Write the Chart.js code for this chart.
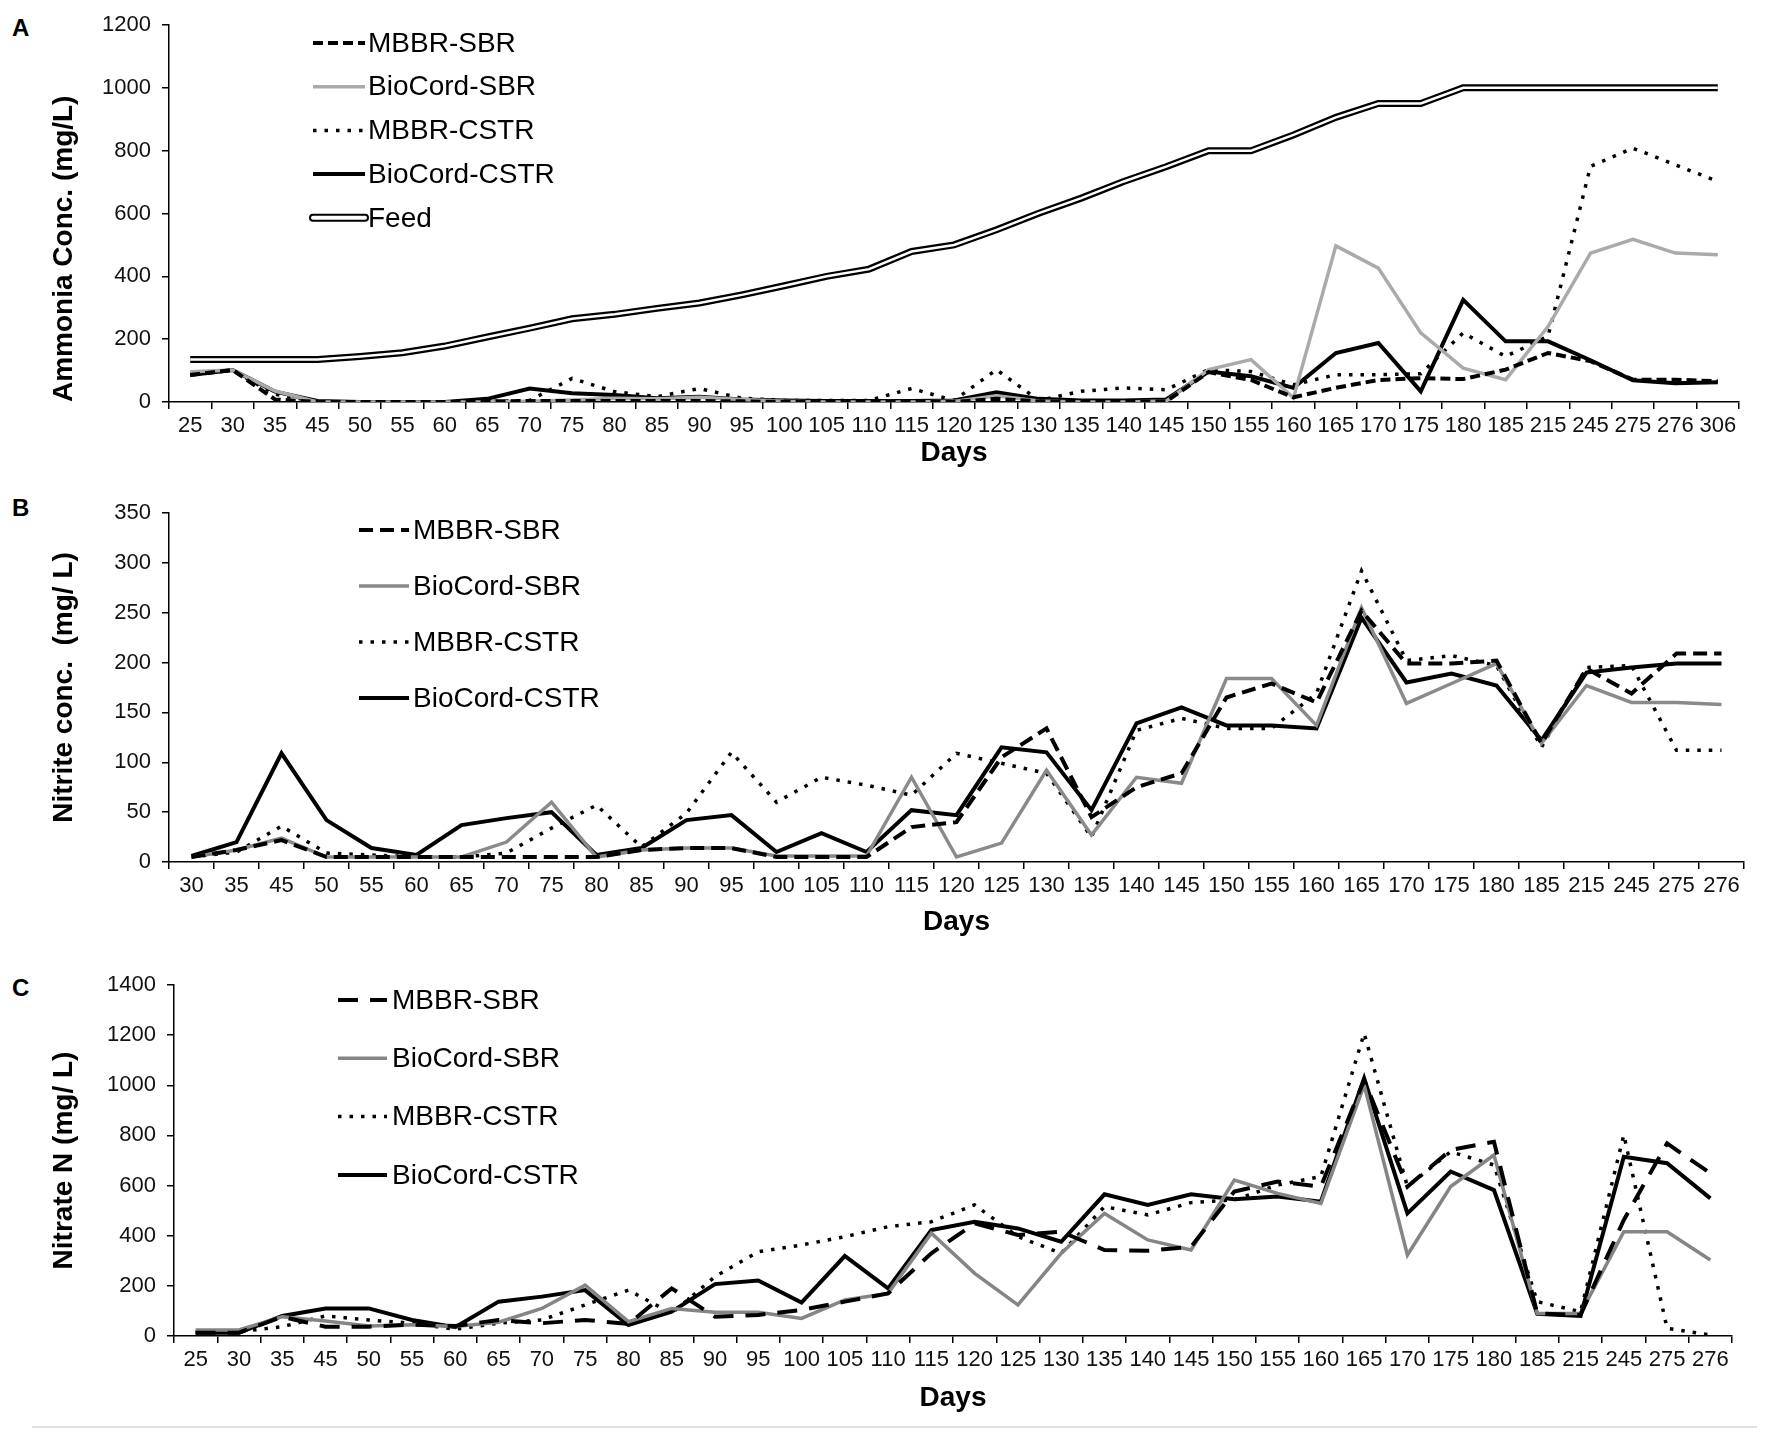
<!DOCTYPE html>
<html>
<head>
<meta charset="utf-8">
<title>Ammonia, nitrite and nitrate</title>
<script src="https://cdn.jsdelivr.net/npm/chart.js@4.4.1/dist/chart.umd.min.js"></script>
<style>
    body { margin: 0; background: #fff; }
    #page { position: relative; width: 1773px; height: 1442px; background: #fff; overflow: hidden; }
    .panel { position: absolute; left: 0; width: 1773px; }
    .letter { position: absolute; left: 12px; font: bold 24px "Liberation Sans", Arial, sans-serif; color: #000; }
    #footLine { position: absolute; left: 32px; top: 1426px; width: 1725px; height: 2px; background: #e2e2e2; }
</style>
</head>
<body>
<div id="page">
    <div class="letter" style="top: 14px;">A</div>
    <div class="letter" style="top: 494px;">B</div>
    <div class="letter" style="top: 974px;">C</div>
    <div class="panel" style="top: 0; height: 470px;"><canvas id="chartA" width="1773" height="470"></canvas></div>
    <div class="panel" style="top: 470px; height: 475px;"><canvas id="chartB" width="1773" height="475"></canvas></div>
    <div class="panel" style="top: 945px; height: 497px;"><canvas id="chartC" width="1773" height="497"></canvas></div>
    <div id="footLine"></div>
</div>

<script>
// Panel A - ammonia
const daysA = ['25', '30', '35', '45', '50', '55', '60', '65', '70', '75', '80', '85', '90', '95', '100', '105', '110',
    '115', '120', '125', '130', '135', '140', '145', '150', '155', '160', '165', '170', '175', '180', '185',
    '215', '245', '275', '276', '306'];
const feedA = [135, 135, 135, 135, 145, 157, 178, 207, 235, 265, 279, 298, 315, 341, 370, 400, 423,
    479, 500, 548, 601, 649, 702, 749, 800, 800, 850, 906, 950, 950, 1000, 1000, 1000, 1000, 1000, 1000, 1000];
const mbbrSbrA = [86, 102, 8, 0, 0, 0, 0, 2, 3, 3, 3, 3, 3, 2, 0, 0, 0,
    0, 0, 10, 2, 0, 0, 2, 95, 70, 15, 45, 70, 76, 73, 103, 156, 130, 71, 71, 66];
const bioSbrA = [96, 102, 35, 0, 0, 0, 0, 0, 2, 6, 12, 10, 15, 8, 2, 0, 0,
    0, 2, 20, 3, 0, 0, 3, 103, 135, 13, 497, 426, 220, 108, 71, 240, 474, 518, 474, 469];
const mbbrCstrA = [90, 100, 25, 0, 0, 0, 0, 2, 5, 75, 33, 17, 43, 12, 5, 5, 5,
    43, 5, 103, 5, 34, 45, 39, 103, 97, 55, 87, 87, 90, 220, 145, 209, 750, 808, 755, 702];
const bioCstrA = [86, 102, 33, 3, 0, 0, 0, 10, 43, 28, 22, 12, 17, 8, 5, 3, 3,
    3, 5, 31, 10, 5, 5, 8, 97, 82, 45, 156, 188, 34, 325, 193, 193, 133, 69, 60, 63];

// Panel B - nitrite
const daysB = ['30', '35', '45', '50', '55', '60', '65', '70', '75', '80', '85', '90', '95', '100', '105', '110',
    '115', '120', '125', '130', '135', '140', '145', '150', '155', '160', '165', '170', '175', '180', '185',
    '215', '245', '275', '276'];
const mbbrSbrB = [5, 12, 22, 5, 5, 5, 5, 5, 5, 5, 12, 14, 14, 5, 5, 5,
    35, 40, 105, 134, 45, 75, 89, 165, 179, 160, 252, 199, 199, 202, 119, 194, 169, 209, 209];
const bioSbrB = [5, 12, 24, 5, 5, 5, 5, 20, 60, 5, 12, 14, 14, 6, 6, 6,
    85, 5, 19, 92, 27, 85, 79, 184, 184, 137, 255, 159, 179, 199, 119, 177, 160, 160, 158];
const mbbrCstrB = [5, 10, 36, 9, 7, 5, 5, 9, 34, 57, 15, 49, 110, 60, 85, 77,
    67, 109, 99, 89, 25, 132, 144, 134, 134, 169, 292, 202, 207, 197, 115, 195, 197, 112, 112];
const bioCstrB = [6, 20, 109, 42, 14, 7, 37, 44, 50, 7, 14, 42, 47, 10, 29, 10,
    52, 47, 115, 110, 52, 139, 155, 137, 137, 134, 245, 180, 189, 177, 122, 190, 195, 199, 199];

// Panel C - nitrate
const daysC = ['25', '30', '35', '45', '50', '55', '60', '65', '70', '75', '80', '85', '90', '95', '100', '105', '110',
    '115', '120', '125', '130', '135', '140', '145', '150', '155', '160', '165', '170', '175', '180', '185',
    '215', '245', '275', '276'];
const mbbrSbrC = [13, 13, 77, 37, 37, 45, 40, 64, 51, 64, 48, 190, 77, 84, 104, 137, 170,
    330, 449, 403, 416, 343, 340, 356, 576, 616, 596, 1021, 596, 742, 775, 90, 84, 463, 768, 649];
const bioSbrC = [24, 24, 77, 60, 40, 45, 38, 55, 110, 203, 57, 110, 95, 95, 70, 144, 170,
    410, 250, 124, 330, 489, 383, 343, 622, 569, 529, 1001, 323, 596, 722, 90, 90, 416, 416, 303];
const mbbrCstrC = [17, 17, 37, 80, 64, 51, 27, 51, 64, 124, 183, 90, 237, 336, 363, 396, 436,
    456, 523, 396, 330, 516, 483, 532, 543, 602, 636, 1207, 596, 735, 682, 137, 97, 802, 31, 4];
const bioCstrC = [13, 13, 80, 110, 110, 64, 35, 137, 157, 183, 44, 97, 207, 221, 133, 319, 190,
    423, 456, 429, 376, 565, 523, 565, 545, 556, 536, 1028, 489, 656, 582, 88, 80, 715, 689, 549];

const FONT = '"Liberation Sans", Arial, sans-serif';
Chart.defaults.font.family = FONT;

// Legend drawn inside the plot, under the top left corner
const insideLegend = {
    id: 'insideLegend',
    afterDraw(chart, args, opts) {
        const ctx = chart.ctx;
        ctx.save();
        ctx.font = opts.fontSize + 'px ' + FONT;
        ctx.textBaseline = 'middle';
        ctx.textAlign = 'left';
        let y = opts.y;
        chart.data.datasets.forEach(function(ds) {
            if (ds.hideInLegend) return;
            const x0 = opts.x;
            const x1 = opts.x + opts.sample;
            ctx.beginPath();
            ctx.moveTo(x0, y);
            ctx.lineTo(x1, y);
            if (ds.feed) {
                ctx.setLineDash([]);
                ctx.lineCap = 'round';
                ctx.strokeStyle = '#000';
                ctx.lineWidth = 8;
                ctx.stroke();
                ctx.strokeStyle = '#fff';
                ctx.lineWidth = 4;
                ctx.stroke();
            } else {
                ctx.setLineDash(ds.borderDash || []);
                ctx.lineCap = 'butt';
                ctx.strokeStyle = ds.borderColor;
                ctx.lineWidth = ds.borderWidth;
                ctx.stroke();
            }
            ctx.fillStyle = '#000';
            ctx.fillText(ds.label, x1 + opts.gap, y + 1);
            y += opts.step;
        });
        ctx.restore();
    }
};

function series(label, data, style) {
    return Object.assign({ label: label, data: data, pointRadius: 0, tension: 0, fill: false, order: 0 }, style);
}

function buildChart(id, p) {
    const tickFont = { family: FONT, size: 22 };
    const axisLine = { color: '#000', width: 1.5 };
    return new Chart(document.getElementById(id), {
        type: 'line',
        data: { labels: p.labels, datasets: p.datasets },
        options: {
            responsive: false,
            animation: false,
            layout: { padding: { top: p.top, right: p.right, left: 0, bottom: 0 } },
            plugins: {
                legend: { display: false },
                tooltip: { enabled: false },
                insideLegend: p.legend
            },
            scales: {
                x: {
                    type: 'category',
                    offset: true,
                    grid: { offset: true, drawOnChartArea: false, color: '#000', lineWidth: 1.5, tickLength: 7 },
                    border: axisLine,
                    ticks: { autoSkip: false, maxRotation: 0, minRotation: 0, color: '#111', font: tickFont, padding: 4 },
                    title: {
                        display: true, text: 'Days', color: '#000',
                        font: { family: FONT, size: 28, weight: 'bold' },
                        padding: { top: 0, bottom: p.daysPad }
                    },
                    afterFit: function(s) { s.height = p.xHeight; }
                },
                y: {
                    min: 0,
                    max: p.yMax,
                    grid: { drawOnChartArea: false, color: '#000', lineWidth: 1.5, tickLength: 7 },
                    border: axisLine,
                    ticks: { stepSize: p.yStep, color: '#111', font: tickFont, padding: 11, format: { useGrouping: false } },
                    title: {
                        display: true, text: p.yTitle, color: '#000', align: p.yAlign,
                        font: { family: FONT, size: 28, weight: 'bold' },
                        padding: { top: 47, bottom: 0 }
                    },
                    afterFit: function(s) { s.width = p.yWidth; }
                }
            }
        },
        plugins: [insideLegend]
    });
}

// Panel A
buildChart('chartA', {
    labels: daysA,
    top: 25, right: 34, yWidth: 169, xHeight: 68, daysPad: 0,
    yMax: 1200, yStep: 200, yTitle: 'Ammonia Conc. (mg/L)', yAlign: 'start',
    legend: { x: 313, y: 43, step: 43.7, sample: 52, gap: 3, fontSize: 28 },
    datasets: [
        series('MBBR-SBR', mbbrSbrA, { borderColor: '#000', borderWidth: 4, borderDash: [10, 5] }),
        series('BioCord-SBR', bioSbrA, { borderColor: '#aaaaaa', borderWidth: 3.5 }),
        series('MBBR-CSTR', mbbrCstrA, { borderColor: '#000', borderWidth: 3.5, borderDash: [3.5, 8] }),
        series('BioCord-CSTR', bioCstrA, { borderColor: '#000', borderWidth: 4 }),
        series('Feed', feedA, { borderColor: '#000', borderWidth: 7, feed: true, order: 6 }),
        series('Feed', feedA, { borderColor: '#fff', borderWidth: 2.5, hideInLegend: true, order: 5 })
    ]
});

// Panel B
buildChart('chartB', {
    labels: daysB,
    top: 43, right: 29, yWidth: 169, xHeight: 83, daysPad: 6,
    yMax: 350, yStep: 50, yTitle: 'Nitrite conc.  (mg/ L)', yAlign: 'center',
    legend: { x: 359, y: 60, step: 56, sample: 50, gap: 4, fontSize: 28 },
    datasets: [
        series('MBBR-SBR', mbbrSbrB, { borderColor: '#000', borderWidth: 4, borderDash: [14, 7] }),
        series('BioCord-SBR', bioSbrB, { borderColor: '#8a8a8a', borderWidth: 3.5 }),
        series('MBBR-CSTR', mbbrCstrB, { borderColor: '#000', borderWidth: 3.5, borderDash: [3.5, 8] }),
        series('BioCord-CSTR', bioCstrB, { borderColor: '#000', borderWidth: 4 })
    ]
});

// Panel C
buildChart('chartC', {
    labels: daysC,
    top: 40, right: 41, yWidth: 174, xHeight: 106, daysPad: 27,
    yMax: 1400, yStep: 200, yTitle: 'Nitrate N (mg/ L)', yAlign: 'center',
    legend: { x: 338, y: 55, step: 58.3, sample: 49, gap: 5, fontSize: 28 },
    datasets: [
        series('MBBR-SBR', mbbrSbrC, { borderColor: '#000', borderWidth: 4, borderDash: [20, 12] }),
        series('BioCord-SBR', bioSbrC, { borderColor: '#858585', borderWidth: 3.5 }),
        series('MBBR-CSTR', mbbrCstrC, { borderColor: '#000', borderWidth: 3.5, borderDash: [3.5, 8] }),
        series('BioCord-CSTR', bioCstrC, { borderColor: '#000', borderWidth: 4 })
    ]
});
</script>
</body>
</html>
